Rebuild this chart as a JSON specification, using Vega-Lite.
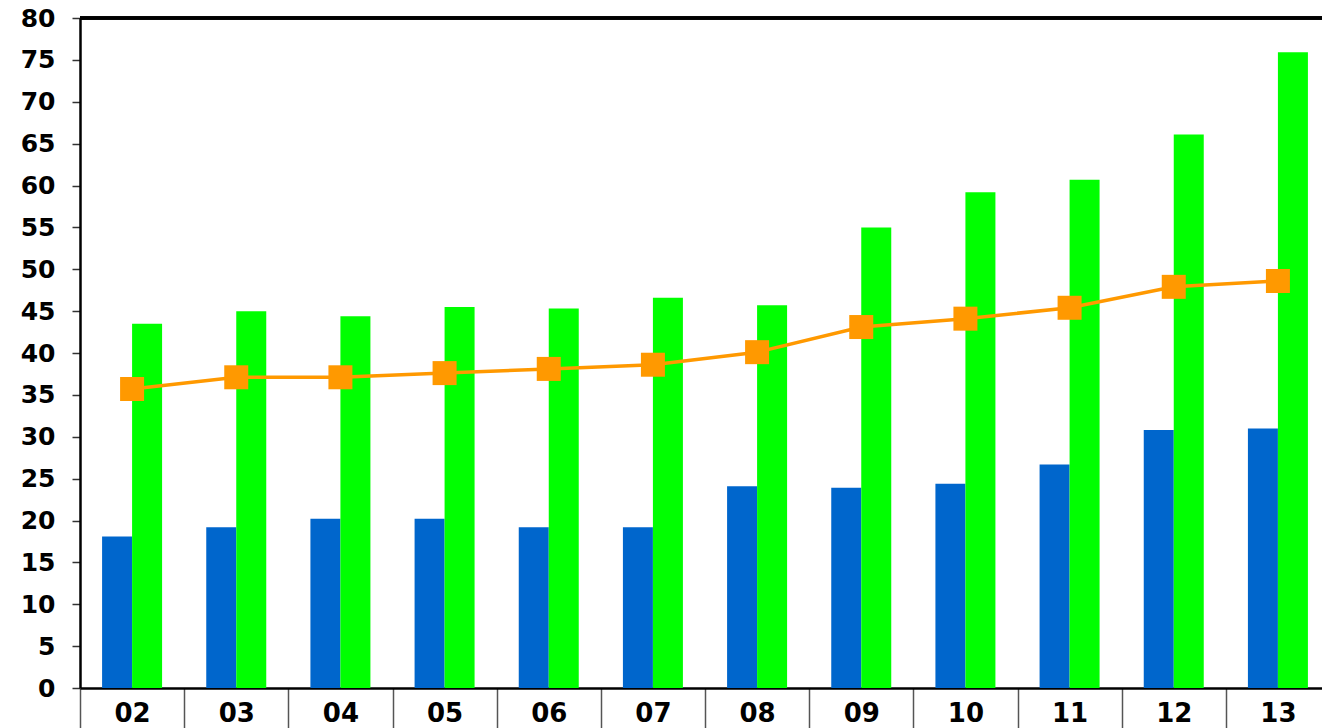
{
  "$schema": "https://vega.github.io/schema/vega-lite/v6.json",
  "width": 1250,
  "height": 670,
  "autosize": {"type": "none"},
  "padding": {"left": 80, "top": 18, "right": 0, "bottom": 40},
  "background": "white",
  "config": {
    "view": {"stroke": null},
    "font": "DejaVu Sans"
  },
  "data": {
    "values": [
      {"year": "02", "blue": 18.1, "green": 43.5, "orange": 35.7},
      {"year": "03", "blue": 19.2, "green": 45.0, "orange": 37.1},
      {"year": "04", "blue": 20.2, "green": 44.4, "orange": 37.1},
      {"year": "05", "blue": 20.2, "green": 45.5, "orange": 37.6},
      {"year": "06", "blue": 19.2, "green": 45.3, "orange": 38.1},
      {"year": "07", "blue": 19.2, "green": 46.6, "orange": 38.6},
      {"year": "08", "blue": 24.1, "green": 45.7, "orange": 40.1},
      {"year": "09", "blue": 23.9, "green": 55.0, "orange": 43.1},
      {"year": "10", "blue": 24.4, "green": 59.2, "orange": 44.1},
      {"year": "11", "blue": 26.7, "green": 60.7, "orange": 45.4},
      {"year": "12", "blue": 30.8, "green": 66.1, "orange": 47.9},
      {"year": "13", "blue": 31.0, "green": 75.9, "orange": 48.6}
    ]
  },
  "encoding": {
    "x": {
      "field": "year",
      "type": "nominal",
      "sort": null,
      "title": null,
      "scale": {"paddingInner": 0.424, "paddingOuter": 0.212},
      "axis": {
        "labelAngle": 0,
        "labelFont": "DejaVu Sans",
        "labelFontSize": 26,
        "labelFontWeight": "bold",
        "labelColor": "black",
        "tickBand": "center",
        "tickOffset": -52.08,
        "labelOffset": 52.08,
        "tickSize": 40,
        "tickColor": "#555555",
        "tickWidth": 1.5,
        "labelPadding": -28,
        "domainColor": "black",
        "domainWidth": 2.5
      }
    }
  },
  "layer": [
    {
      "transform": [{"fold": ["blue", "green"], "as": ["series", "value"]}],
      "mark": {"type": "bar"},
      "encoding": {
        "xOffset": {"field": "series", "type": "nominal", "scale": {"paddingInner": 0, "paddingOuter": 0}},
        "y": {
          "field": "value",
          "type": "quantitative",
          "title": null,
          "scale": {"domain": [0, 80], "nice": false},
          "axis": {
            "values": [0, 5, 10, 15, 20, 25, 30, 35, 40, 45, 50, 55, 60, 65, 70, 75, 80],
            "grid": false,
            "labelFont": "DejaVu Sans",
            "labelFontSize": 25,
            "labelFontWeight": "bold",
            "labelColor": "black",
            "labelPadding": 17,
            "tickSize": 8,
            "tickColor": "#333333",
            "tickWidth": 1.5,
            "domainColor": "black",
            "domainWidth": 2.5
          }
        },
        "color": {
          "field": "series",
          "type": "nominal",
          "scale": {"domain": ["blue", "green"], "range": ["#0066CC", "#00FF00"]},
          "legend": null
        }
      }
    },
    {
      "mark": {"type": "rule", "color": "black", "strokeWidth": 2.5},
      "encoding": {
        "x": null,
        "y": {"datum": 80, "type": "quantitative"}
      }
    },
    {
      "mark": {"type": "line", "color": "#FF9900", "strokeWidth": 3.5},
      "encoding": {
        "y": {"field": "orange", "type": "quantitative"}
      }
    },
    {
      "mark": {"type": "point", "shape": "square", "filled": true, "color": "#FF9900", "opacity": 1, "size": 576},
      "encoding": {
        "y": {"field": "orange", "type": "quantitative"}
      }
    }
  ]
}
